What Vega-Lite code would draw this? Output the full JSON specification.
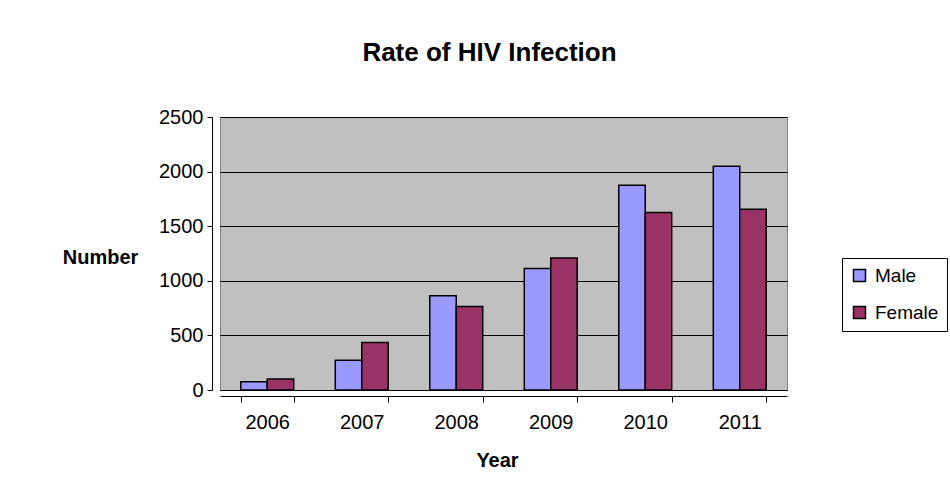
{
  "$schema": "https://vega.github.io/schema/vega-lite/v6.json",
  "autosize": "none",
  "width": 567,
  "height": 273,
  "padding": {"left": 220, "top": 117, "right": 163, "bottom": 108},
  "background": "white",
  "title": {
    "text": "Rate of HIV Infection",
    "font": "Liberation Sans",
    "fontSize": 26,
    "fontWeight": "bold",
    "color": "black",
    "anchor": "middle",
    "dx": -14,
    "offset": 41
  },
  "data": {
    "values": [
      {"Year": "2006", "Sex": "Male", "Number": 75},
      {"Year": "2006", "Sex": "Female", "Number": 100},
      {"Year": "2007", "Sex": "Male", "Number": 272},
      {"Year": "2007", "Sex": "Female", "Number": 436},
      {"Year": "2008", "Sex": "Male", "Number": 864},
      {"Year": "2008", "Sex": "Female", "Number": 764},
      {"Year": "2009", "Sex": "Male", "Number": 1112},
      {"Year": "2009", "Sex": "Female", "Number": 1209},
      {"Year": "2010", "Sex": "Male", "Number": 1875},
      {"Year": "2010", "Sex": "Female", "Number": 1625},
      {"Year": "2011", "Sex": "Male", "Number": 2048},
      {"Year": "2011", "Sex": "Female", "Number": 1655}
    ]
  },
  "mark": {"type": "bar", "stroke": "black", "strokeWidth": 1.5},
  "encoding": {
    "x": {
      "field": "Year",
      "type": "nominal",
      "scale": {"paddingInner": 0.44, "paddingOuter": 0.22},
      "axis": {
        "title": "Year",
        "titleFont": "Liberation Sans",
        "titleFontSize": 20,
        "titleFontWeight": "bold",
        "titleColor": "black",
        "titleX": 277,
        "titleY": 64,
        "titleBaseline": "middle",
        "labelFont": "Liberation Sans",
        "labelFontSize": 20,
        "labelColor": "black",
        "labelAngle": 0,
        "labelPadding": 10,
        "tickBand": "extent",
        "tickColor": "black",
        "tickSize": 6,
        "domainColor": "black",
        "offset": 6
      }
    },
    "xOffset": {"field": "Sex", "type": "nominal", "sort": ["Male", "Female"], "scale": {"paddingInner": 0, "paddingOuter": 0}},
    "y": {
      "field": "Number",
      "type": "quantitative",
      "scale": {"domain": [0, 2500]},
      "axis": {
        "values": [0, 500, 1000, 1500, 2000, 2500],
        "format": "d",
        "title": "Number",
        "titleAngle": 0,
        "titleFont": "Liberation Sans",
        "titleFontSize": 20,
        "titleFontWeight": "bold",
        "titleColor": "black",
        "titleAlign": "center",
        "titleBaseline": "middle",
        "titleX": -112,
        "titleY": 140,
        "labelFont": "Liberation Sans",
        "labelFontSize": 20,
        "labelColor": "black",
        "labelPadding": 4,
        "tickColor": "black",
        "tickSize": 5,
        "domainColor": "black",
        "gridColor": "black",
        "gridOpacity": 1,
        "offset": 8
      }
    },
    "color": {
      "field": "Sex",
      "type": "nominal",
      "sort": ["Male", "Female"],
      "scale": {"domain": ["Male", "Female"], "range": ["#9999FF", "#993366"]},
      "legend": {
        "title": null,
        "orient": "none",
        "legendX": 622,
        "legendY": 141,
        "symbolType": "square",
        "symbolSize": 144,
        "symbolStrokeColor": "black",
        "symbolStrokeWidth": 1.5,
        "symbolOpacity": 1,
        "labelFont": "Liberation Sans",
        "labelFontSize": 19,
        "labelColor": "black",
        "labelOffset": 6,
        "rowPadding": 17,
        "padding": 8,
        "strokeColor": "black",
        "fillColor": "white"
      }
    }
  },
  "config": {
    "view": {"fill": "#C0C0C0", "stroke": "#808080"}
  }
}
